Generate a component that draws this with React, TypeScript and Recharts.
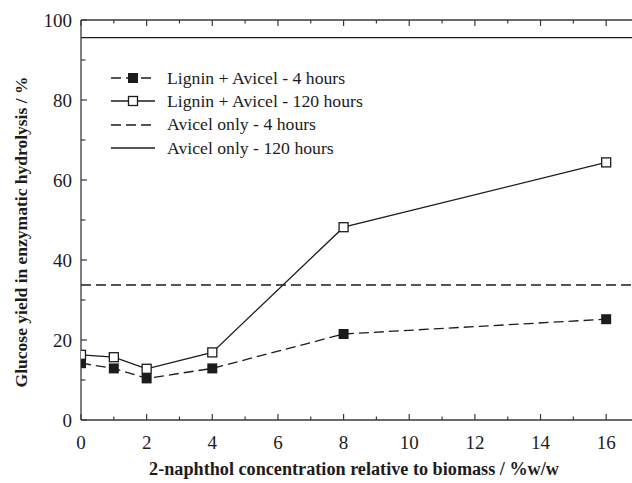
import React from 'react'
import { LineChart, Line, XAxis, YAxis, ReferenceLine, Legend } from 'recharts'

// values
const concentration = [0, 1, 2, 4, 8, 16]
const ligninAvicel4h = [14.2, 12.9, 10.4, 12.9, 21.5, 25.2]
const ligninAvicel120h = [16.3, 15.7, 12.8, 16.9, 48.2, 64.4]
const avicelOnly4h = 33.75
const avicelOnly120h = 95.6

const xTicks = [0, 1, 2, 3, 4, 5, 6, 7, 8, 9, 10, 11, 12, 13, 14, 15, 16]
const yTicks = [0, 10, 20, 30, 40, 50, 60, 70, 80, 90, 100]

const legendLabels = [
  'Lignin + Avicel - 4 hours',
  'Lignin + Avicel - 120 hours',
  'Avicel only - 4 hours',
  'Avicel only - 120 hours',
]

const data4h = concentration.map((x, i) => ({ x, y: ligninAvicel4h[i] }))
const data120h = concentration.map((x, i) => ({ x, y: ligninAvicel120h[i] }))

const FONT = 'Liberation Serif'
const INK = '#1c1c1c'
const AXIS = '#3a3a3a'
const DASH = '10 5'

function BottomTick({ x, y, payload }: any) {
  const major = payload.value % 2 === 0
  return (
    <g>
      <line x1={x} x2={x} y1={y} y2={y - (major ? 6 : 3.5)} stroke={AXIS} strokeWidth={1.2} />
      {major && (
        <text x={x} y={y + 29} textAnchor="middle" style={{ fontFamily: FONT, fontSize: 19 }} fill={INK}>
          {payload.value}
        </text>
      )}
    </g>
  )
}

function TopTick({ x, y, payload }: any) {
  const major = payload.value % 2 === 0
  return <line x1={x} x2={x} y1={y} y2={y + (major ? 6 : 3.5)} stroke={AXIS} strokeWidth={1.2} />
}

function LeftTick({ x, y, payload }: any) {
  const major = payload.value % 20 === 0
  return (
    <g>
      <line x1={x} x2={x + (major ? 6 : 4.5)} y1={y} y2={y} stroke={AXIS} strokeWidth={1.2} />
      {major && (
        <text x={x - 9} y={y} dy="0.36em" textAnchor="end" style={{ fontFamily: FONT, fontSize: 19 }} fill={INK}>
          {payload.value}
        </text>
      )}
    </g>
  )
}

function FilledSquare({ cx, cy, index }: any) {
  return <rect key={'f' + index} x={cx - 5} y={cy - 5} width={10} height={10} fill={INK} />
}

function OpenSquare({ cx, cy, index }: any) {
  return (
    <rect key={'o' + index} x={cx - 4.5} y={cy - 4.5} width={9} height={9} fill="#fff" stroke={INK} strokeWidth={1.3} />
  )
}

function LegendBox() {
  return (
    <div style={{ fontFamily: FONT, fontSize: 17.7, color: INK }}>
      {legendLabels.map((label, i) => (
        <div key={label} style={{ display: 'flex', alignItems: 'center', height: 23.3 }}>
          <svg width={46} height={14} style={{ display: 'block' }}>
            <line x1={1} x2={45} y1={7} y2={7} stroke={INK} strokeWidth={1.3} strokeDasharray={i % 2 === 0 ? DASH : undefined} />
            {i === 0 && <rect x={18} y={2} width={10} height={10} fill={INK} />}
            {i === 1 && <rect x={18.5} y={2.5} width={9} height={9} fill="#fff" stroke={INK} strokeWidth={1.3} />}
          </svg>
          <span style={{ marginLeft: 11, whiteSpace: 'nowrap' }}>{label}</span>
        </div>
      ))}
    </div>
  )
}

export default function App() {
  return (
    <div style={{ position: 'absolute', left: 0, top: 0, width: 632, height: 483, overflow: 'hidden', background: '#fff' }}>
      <LineChart width={640} height={483} margin={{ top: 0, right: 1, bottom: 0, left: 0 }} style={{ fontFamily: FONT }}>
        <XAxis
          xAxisId="bottom"
          dataKey="x"
          type="number"
          domain={[0, 17]}
          ticks={xTicks}
          interval={0}
          tick={<BottomTick />}
          tickLine={false}
          tickSize={0}
          tickMargin={0}
          height={63}
          axisLine={{ stroke: AXIS, strokeWidth: 1.3 }}
          allowDataOverflow
          label={{
            content: () => (
              <text x={354} y={475} textAnchor="middle" style={{ fontFamily: FONT, fontSize: 18.2, fontWeight: 700 }} fill={INK}>
                2-naphthol concentration relative to biomass / %w/w
              </text>
            ),
          }}
        />
        <XAxis
          xAxisId="top"
          orientation="top"
          dataKey="x"
          type="number"
          domain={[0, 17]}
          ticks={xTicks}
          interval={0}
          tick={<TopTick />}
          tickLine={false}
          tickSize={0}
          tickMargin={0}
          height={20}
          axisLine={{ stroke: AXIS, strokeWidth: 1.3 }}
          allowDataOverflow
        />
        <YAxis
          yAxisId="left"
          type="number"
          domain={[0, 100]}
          ticks={yTicks}
          interval={0}
          tick={<LeftTick />}
          tickLine={false}
          tickSize={0}
          tickMargin={0}
          width={81}
          axisLine={{ stroke: AXIS, strokeWidth: 1.3 }}
          allowDataOverflow
          label={{
            content: () => (
              <text
                x={27}
                y={232}
                transform="rotate(-90, 27, 232)"
                textAnchor="middle"
                style={{ fontFamily: FONT, fontSize: 17.5, fontWeight: 700 }}
                fill={INK}
              >
                Glucose yield in enzymatic hydrolysis / %
              </text>
            ),
          }}
        />
        <ReferenceLine xAxisId="bottom" yAxisId="left" y={avicelOnly120h} stroke={INK} strokeWidth={1.3} />
        <ReferenceLine xAxisId="bottom" yAxisId="left" y={avicelOnly4h} stroke={INK} strokeWidth={1.3} strokeDasharray={DASH} />
        <Line
          xAxisId="top"
          yAxisId="left"
          data={data4h}
          dataKey="y"
          stroke="none"
          dot={false}
          legendType="none"
          isAnimationActive={false}
        />
        <Line
          xAxisId="bottom"
          yAxisId="left"
          data={data4h}
          dataKey="y"
          name={legendLabels[0]}
          stroke={INK}
          strokeWidth={1.3}
          strokeDasharray={DASH}
          dot={<FilledSquare />}
          isAnimationActive={false}
        />
        <Line
          xAxisId="bottom"
          yAxisId="left"
          data={data120h}
          dataKey="y"
          name={legendLabels[1]}
          stroke={INK}
          strokeWidth={1.3}
          dot={<OpenSquare />}
          isAnimationActive={false}
        />
        <Legend
          layout="vertical"
          align="center"
          verticalAlign="middle"
          content={<LegendBox />}
          wrapperStyle={{ left: 110, top: 66.5, width: 'auto', height: 'auto' }}
        />
      </LineChart>
    </div>
  )
}
